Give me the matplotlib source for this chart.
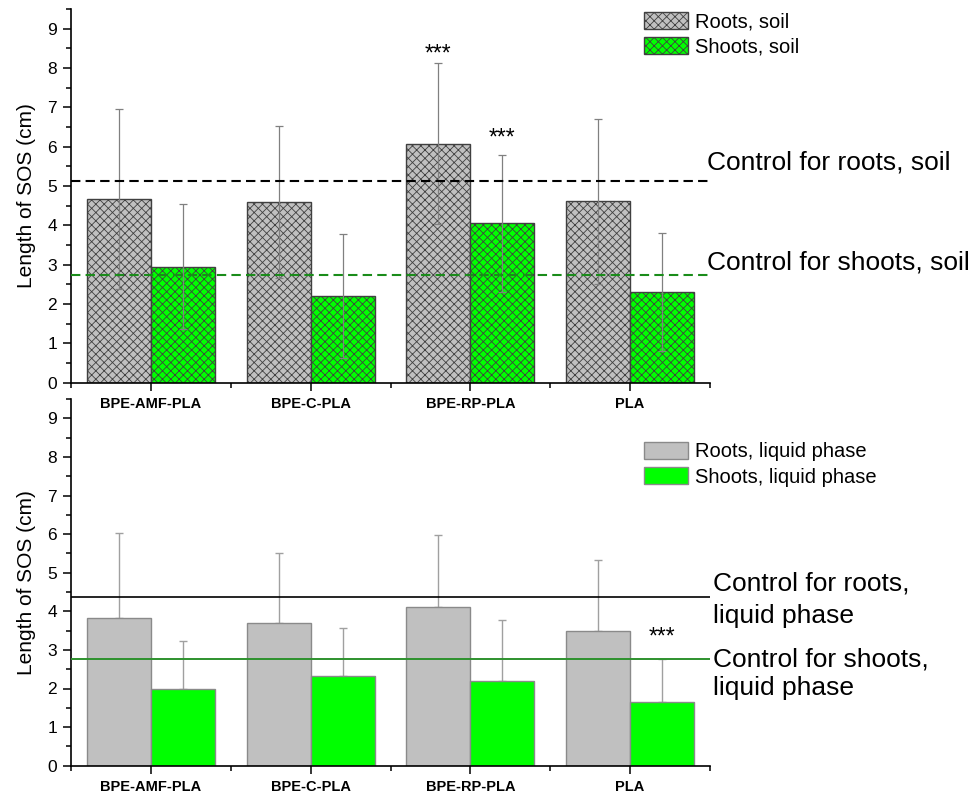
import matplotlib
matplotlib.use("Agg")
import matplotlib.pyplot as plt
import matplotlib.transforms as mtransforms
from matplotlib.ticker import MultipleLocator, FixedLocator
import numpy as np

plt.rcParams["font.family"] = ["Liberation Sans", "DejaVu Sans"]
plt.rcParams["hatch.linewidth"] = 0.6

# ---- data ----
categories = ["BPE-AMF-PLA", "BPE-C-PLA", "BPE-RP-PLA", "PLA"]

roots_soil = [4.67, 4.59, 6.08, 4.61]
roots_soil_sd = [2.29, 1.94, 2.05, 2.10]
shoots_soil = [2.95, 2.20, 4.05, 2.30]
shoots_soil_sd = [1.59, 1.58, 1.74, 1.50]

roots_liquid = [3.83, 3.70, 4.12, 3.50]
roots_liquid_sd = [2.21, 1.80, 1.85, 1.82]
shoots_liquid = [1.99, 2.32, 2.19, 1.64]
shoots_liquid_sd = [1.25, 1.25, 1.58, 1.12]

control_roots_soil = 5.12
control_shoots_soil = 2.75
control_roots_liquid = 4.37
control_shoots_liquid = 2.76

# significance marks: (category index, series offset sign, baseline y)
stars_soil = [(2, -1, 8.19), (2, +1, 6.06)]
stars_liquid = [(3, +1, 3.16)]

GREY = "#c0c0c0"
GREEN = "#00ff00"

fig = plt.figure(figsize=(9.71, 7.94), dpi=100)
W, H = 971, 794
ax1 = fig.add_axes([71 / W, 1 - 382.7 / H, 639 / W, (382.7 - 9) / H])
ax2 = fig.add_axes([71 / W, 1 - 765.7 / H, 639 / W, (765.7 - 399) / H])

x = np.arange(1, len(categories) + 1)
bw = 0.4


def style_axes(ax):
    ax.set_xlim(0.5, 4.5)
    ax.set_ylim(0, 9.5)
    for s in ("top", "right"):
        ax.spines[s].set_visible(False)
    for s in ("left", "bottom"):
        ax.spines[s].set_linewidth(1.2)
    ax.yaxis.set_major_locator(MultipleLocator(1))
    ax.yaxis.set_minor_locator(MultipleLocator(0.5))
    ax.xaxis.set_major_locator(FixedLocator(x))
    ax.xaxis.set_minor_locator(FixedLocator(np.arange(0.5, 4.6, 1.0)))
    ax.set_xticklabels(categories, fontweight="bold", fontsize=10.5)
    ax.tick_params(axis="both", which="major", direction="out", length=6, width=1.1)
    ax.tick_params(axis="both", which="minor", direction="out", length=3.5, width=1.1)
    ax.tick_params(axis="y", labelsize=12.5, pad=4)
    ax.tick_params(axis="x", pad=4)
    ax.set_ylabel("Length of SOS (cm)", fontsize=15)
    ax.yaxis.set_label_coords(-0.054, 0.5)
    ax.patch.set_alpha(0)


legend_kw = dict(bbox_transform=fig.transFigure, loc="upper left", frameon=False,
                 fontsize=14.5, handlelength=2.2, handleheight=0.9,
                 handletextpad=0.35, labelspacing=0.3, borderpad=0, borderaxespad=0)

# ---- soil panel ----
b1 = ax1.bar(x - bw / 2, roots_soil, bw, color=GREY, edgecolor="#404040",
             linewidth=1.0, hatch="xxxx", label="Roots, soil", zorder=2)
b2 = ax1.bar(x + bw / 2, shoots_soil, bw, color=GREEN, edgecolor="#404040",
             linewidth=1.0, hatch="xxxx", label="Shoots, soil", zorder=2)
ax1.errorbar(x - bw / 2, roots_soil, yerr=roots_soil_sd, fmt="none",
             ecolor="#808080", elinewidth=0.9, capsize=3.2, capthick=0.9, zorder=3)
ax1.errorbar(x + bw / 2, shoots_soil, yerr=shoots_soil_sd, fmt="none",
             ecolor="#808080", elinewidth=0.9, capsize=3.2, capthick=0.9, zorder=3)
ax1.axhline(control_roots_soil, color="black", lw=1.5, ls=(0, (4.5, 2.5)), zorder=4)
ax1.axhline(control_shoots_soil, color="#1a8c1a", lw=1.5, ls=(0, (4.5, 2.5)), zorder=4)

tr1 = mtransforms.blended_transform_factory(ax1.transAxes, ax1.transData)
ax1.text(0.996, 5.41, "Control for roots, soil", transform=tr1, fontsize=19,
         va="baseline", ha="left", clip_on=False)
ax1.text(0.996, 2.87, "Control for shoots, soil", transform=tr1, fontsize=19,
         va="baseline", ha="left", clip_on=False)
for ci, side, yb in stars_soil:
    ax1.text(x[ci] + side * bw / 2, yb, "***", fontsize=16.5, ha="center", va="baseline")

style_axes(ax1)
ax1.legend(handles=[b1, b2], bbox_to_anchor=(644 / W, 1 - 12 / H), **legend_kw)

# ---- liquid phase panel ----
c1 = ax2.bar(x - bw / 2, roots_liquid, bw, color=GREY, edgecolor="#8a8a8a",
             linewidth=1.0, label="Roots, liquid phase", zorder=2)
c2 = ax2.bar(x + bw / 2, shoots_liquid, bw, color=GREEN, edgecolor="#8a8a8a",
             linewidth=1.0, label="Shoots, liquid phase", zorder=2)
ax2.errorbar(x - bw / 2, roots_liquid, yerr=[np.zeros(4), roots_liquid_sd], fmt="none",
             ecolor="#a0a0a0", elinewidth=1.0, capsize=3.2, capthick=1.0, zorder=1.5)
ax2.errorbar(x + bw / 2, shoots_liquid, yerr=[np.zeros(4), shoots_liquid_sd], fmt="none",
             ecolor="#a0a0a0", elinewidth=1.0, capsize=3.2, capthick=1.0, zorder=1.5)
ax2.axhline(control_roots_liquid, color="black", lw=1.2, zorder=4)
ax2.axhline(control_shoots_liquid, color="#2e922e", lw=1.4, zorder=4)

tr2 = mtransforms.blended_transform_factory(ax2.transAxes, ax2.transData)
for yb, txt in [(4.55, "Control for roots,"), (3.70, "liquid phase"),
                (2.56, "Control for shoots,"), (1.83, "liquid phase")]:
    ax2.text(1.005, yb, txt, transform=tr2, fontsize=19, va="baseline",
             ha="left", clip_on=False)
for ci, side, yb in stars_liquid:
    ax2.text(x[ci] + side * bw / 2, yb, "***", fontsize=16.5, ha="center", va="baseline")

style_axes(ax2)
ax2.legend(handles=[c1, c2], bbox_to_anchor=(644 / W, 1 - 442 / H), **legend_kw)

fig.savefig("out.png", dpi=100)
